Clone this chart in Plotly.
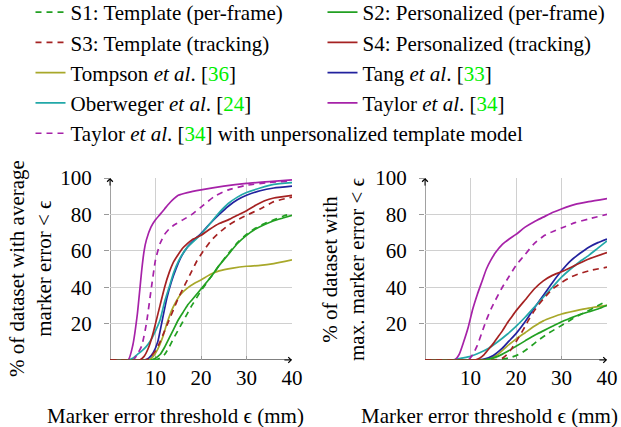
import plotly.graph_objects as go

# ---------------- data: average marker error (left panel) ----------------
x_avg_s1 = [0, 10, 11, 12, 13, 14, 15, 16, 17, 18, 19, 20, 22, 24, 26, 28, 30, 32, 34, 36, 38, 40]
y_avg_s1 = [0, 0, 1, 3, 7, 12, 16.5, 21, 25.5, 30, 34, 38, 45, 52, 58.5, 64.5, 69, 72.5, 75, 77, 79, 80.5]

x_avg_s2 = [0, 9, 10, 11, 12, 13, 14, 15, 16, 17, 18, 19, 20, 22, 24, 26, 28, 30, 32, 34, 36, 38, 40]
y_avg_s2 = [0, 0, 1, 3, 7, 12, 17, 22, 26, 30, 33, 36, 39, 45, 52, 58, 64, 68.5, 72, 74.5, 76.5, 78, 79.5]

x_avg_s3 = [0, 8, 9, 10, 11, 12, 13, 14, 15, 16, 17, 18, 19, 20, 22, 24, 26, 28, 30, 33, 36, 40]
y_avg_s3 = [0, 0, 2, 5, 10, 16, 22, 28, 34, 39, 44, 49, 54, 58, 65, 70, 74, 77, 79.5, 83, 87, 89.5]

x_avg_s4 = [0, 6.5, 7.5, 8.5, 9.5, 10, 11, 12, 13, 14, 15, 16, 17, 18, 20, 22, 24, 26, 28, 30, 32, 34, 36, 40]
y_avg_s4 = [0, 0, 2, 7, 15, 20, 30, 40, 48, 54, 58, 61.5, 64, 66, 68.5, 72, 75, 77, 79.5, 82, 85, 87.5, 89, 90.5]

x_avg_tompson = [0, 8.5, 9.5, 10.5, 11.5, 12.5, 13.5, 14.5, 15.5, 17, 18.5, 20, 22, 24, 27, 30, 33, 36, 40]
y_avg_tompson = [0, 0, 2, 6, 12, 20, 27, 32, 36, 39.5, 42, 44, 47, 49, 50.5, 51.5, 52, 53, 55]

x_avg_tang = [0, 7.5, 8.5, 9.5, 10.5, 11.5, 12.5, 13.5, 14.5, 15.5, 17, 18.5, 20, 22, 24, 26, 28, 30, 33, 36, 40]
y_avg_tang = [0, 0, 1, 4, 10, 22, 34, 43, 50, 56, 62, 66, 69.5, 75, 80, 84.5, 88, 90.5, 93, 94.5, 95.5]

x_avg_ober = [0, 4, 5, 6, 7, 8, 9, 10, 11, 12, 13, 14, 15, 16, 17, 18.5, 20, 22, 24, 26, 28, 30, 33, 36, 40]
y_avg_ober = [0, 0, 1, 3, 5, 7.5, 11, 16, 22, 32, 40, 48, 54, 58.5, 62, 65.5, 69, 75, 81, 86, 89.5, 92, 94.5, 96.5, 97.5]

x_avg_taylor = [0, 4, 5, 6, 7, 7.5, 8, 9, 10, 11, 12, 13, 14, 15, 17, 20, 25, 30, 35, 40]
y_avg_taylor = [0, 0, 8, 25, 50, 60, 66, 73, 77, 80, 83, 86, 88.5, 90.5, 92, 93.5, 95.5, 97, 98, 99]

x_avg_taylor_t = [0, 5, 6, 7, 8, 9, 10, 11, 12, 13, 14, 16, 18, 20, 23, 26, 30, 35, 40]
y_avg_taylor_t = [0, 0, 3, 8, 20, 38, 55, 64, 69, 72, 74, 77, 80, 84, 90, 93.5, 96, 97.5, 98.5]

# ---------------- data: max marker error (right panel) ----------------
x_max_s1 = [0, 15, 17, 19, 21, 23, 25, 27, 29, 31, 33, 35, 37, 40]
y_max_s1 = [0, 0, 0.5, 1.5, 3.5, 7, 11, 14.5, 17.5, 20.5, 23.5, 26, 28.5, 32.5]

x_max_s2 = [0, 12, 14, 16, 18, 20, 22, 24, 26, 28, 30, 32, 34, 36, 38, 40]
y_max_s2 = [0, 0, 0.5, 2, 4.5, 7.5, 10.5, 13.5, 16, 18.5, 21, 23, 25, 26.5, 28, 30]

x_max_s3 = [0, 16, 17, 18, 19, 20, 21, 22, 23, 24, 25, 26, 28, 30, 32, 34, 36, 40]
y_max_s3 = [0, 0, 1, 3, 6, 10, 14, 18.5, 23, 27, 30.5, 33.5, 39, 42.5, 45.5, 47.5, 49, 51]

x_max_s4 = [0, 11, 12, 13, 14, 15, 16, 17, 18, 19, 20, 22, 24, 26, 28, 30, 33, 36, 40]
y_max_s4 = [0, 0, 1, 3, 6, 9, 12.5, 16, 20, 23.5, 27, 33, 39, 43.5, 46.5, 48.5, 52, 55.5, 59]

x_max_tompson = [0, 13, 14, 16, 18, 20, 22, 24, 26, 28, 30, 33, 36, 40]
y_max_tompson = [0, 0, 0.5, 3, 7.5, 11.5, 15, 18.5, 21.5, 23.5, 25.3, 27, 28.5, 30]

x_max_tang = [0, 11, 13, 15, 17, 18.5, 20, 22, 24, 26, 28, 30, 32, 34, 36, 38, 40]
y_max_tang = [0, 0, 0.5, 2.5, 6.5, 10.5, 14.5, 21, 28.5, 35.5, 42.5, 49, 54.5, 58.5, 62, 64.5, 66.5]

x_max_ober = [0, 6, 8, 10, 12, 14, 16, 18, 20, 22, 24, 26, 28, 30, 32, 34, 36, 38, 40]
y_max_ober = [0, 0, 1, 2, 4, 6.5, 10, 14, 18.5, 23.5, 29, 34.5, 40, 45.5, 50, 54, 57.5, 61.5, 65.5]

x_max_taylor = [0, 6.5, 7.5, 8.5, 9.5, 10.5, 11.5, 12.5, 13.5, 14.5, 15.5, 17, 18.5, 20, 22, 24, 26, 28, 30, 33, 36, 40]
y_max_taylor = [0, 0, 3, 10, 18, 28, 36, 43, 50, 55, 59, 63.5, 66.5, 69, 73, 76, 78.5, 81, 83, 85.5, 87, 88.7]

x_max_taylor_t = [0, 9.5, 10.5, 11.5, 12.5, 13.5, 14.5, 15.5, 17, 18.5, 20, 22, 24, 26, 28, 30, 33, 36, 40]
y_max_taylor_t = [0, 0, 3, 8, 15, 22, 28, 33, 40, 46, 52, 58, 64, 68, 70.5, 72.5, 75.5, 77.5, 80]

x_ticks = [10, 20, 30, 40]
y_ticks = [20, 40, 60, 80, 100]

GREEN, RED, OLIVE, BLUE, TEAL, MAGENTA = "#22a022", "#a52222", "#a8a82a", "#22229e", "#22a8a8", "#a622a8"
CITE = "#00ee00"

def cite(n):
    return f"[<span style='color:{CITE}'>{n}</span>]"

DASH = "6px,5px"
series = [
    # name, color, dash, avg x/y, max x/y, legend id, legend rank
    ("Tompson <i>et al</i>. " + cite(36), OLIVE, "solid", x_avg_tompson, y_avg_tompson, x_max_tompson, y_max_tompson, "legend", 3),
    ("Tang <i>et al</i>. " + cite(33), BLUE, "solid", x_avg_tang, y_avg_tang, x_max_tang, y_max_tang, "legend2", 3),
    ("Oberweger <i>et al</i>. " + cite(24), TEAL, "solid", x_avg_ober, y_avg_ober, x_max_ober, y_max_ober, "legend", 4),
    ("Taylor <i>et al</i>. " + cite(34), MAGENTA, "solid", x_avg_taylor, y_avg_taylor, x_max_taylor, y_max_taylor, "legend2", 4),
    ("Taylor <i>et al</i>. " + cite(34) + " with unpersonalized template model", MAGENTA, DASH,
     x_avg_taylor_t, y_avg_taylor_t, x_max_taylor_t, y_max_taylor_t, "legend", 5),
    ("S1: Template (per-frame)", GREEN, DASH, x_avg_s1, y_avg_s1, x_max_s1, y_max_s1, "legend", 1),
    ("S2: Personalized (per-frame)", GREEN, "solid", x_avg_s2, y_avg_s2, x_max_s2, y_max_s2, "legend2", 1),
    ("S3: Template (tracking)", RED, DASH, x_avg_s3, y_avg_s3, x_max_s3, y_max_s3, "legend", 2),
    ("S4: Personalized (tracking)", RED, "solid", x_avg_s4, y_avg_s4, x_max_s4, y_max_s4, "legend2", 2),
]

fig = go.Figure()
for i, (name, col, dash, xa, ya, xm, ym, leg, rank) in enumerate(series):
    line = dict(color=col, width=1.7, dash=dash, shape="spline", smoothing=0.5)
    fig.add_trace(go.Scatter(x=xa, y=ya, mode="lines", name=name, line=line, legend=leg,
                             legendgroup=str(i), legendrank=rank, xaxis="x", yaxis="y"))
    fig.add_trace(go.Scatter(x=xm, y=ym, mode="lines", name=name, line=line, showlegend=False, legend=leg,
                             legendgroup=str(i), legendrank=rank, xaxis="x2", yaxis="y2"))

SERIF = "Liberation Serif"
FS = 21
W, H = 621, 427
ydom = [(H - 360) / H, (H - 178) / H]
tickfont = dict(family=SERIF, size=FS, color="black")
axis_common = dict(range=[0, 40], tickvals=x_ticks, showgrid=True, gridcolor="#d0d0d0", gridwidth=1,
                   zeroline=False, showline=False, ticks="inside", ticklen=4, tickcolor="#999999",
                   tickfont=tickfont, ticklabelstandoff=3, layer="below traces", automargin=False)
yaxis_common = dict(range=[0, 100], tickvals=y_ticks, showgrid=True, gridcolor="#d0d0d0", gridwidth=1,
                    zeroline=False, showline=False, ticks="outside", ticklen=5, tickcolor="#999999",
                    tickfont=tickfont, ticklabelstandoff=8, layer="below traces", domain=ydom,
                    automargin=False)

leg_common = dict(orientation="v", y=1.019, xanchor="left", yanchor="top", tracegroupgap=0,
                  font=dict(family=SERIF, size=FS, color="black"), bgcolor="rgba(0,0,0,0)",
                  traceorder="grouped", borderwidth=0)

fig.update_layout(
    width=W, height=H, autosize=False,
    margin=dict(l=0, r=0, t=0, b=0, autoexpand=False),
    paper_bgcolor="white", plot_bgcolor="white",
    xaxis=dict(axis_common, domain=[110 / W, 292 / W], anchor="y"),
    yaxis=dict(yaxis_common, anchor="x"),
    xaxis2=dict(axis_common, domain=[425 / W, 607 / W], anchor="y2"),
    yaxis2=dict(yaxis_common, anchor="x2"),
    showlegend=True,
    legend=dict(leg_common, x=30.5 / W),
    legend2=dict(leg_common, x=322.5 / W),
)

# axis titles
title_font = dict(family=SERIF, size=FS, color="black")
for x0 in (45, 359):
    fig.add_annotation(x=x0 / W, y=(H - 416) / H, xref="paper", yref="paper", xanchor="left", yanchor="middle",
                       text="Marker error threshold ϵ (mm)", showarrow=False, font=title_font)
fig.add_annotation(x=30 / W, y=(H - 269) / H, xref="paper", yref="paper", xanchor="center", yanchor="middle",
                   textangle=-90, text="% of dataset with average<br>marker error &lt; ϵ", showarrow=False,
                   font=title_font)
fig.add_annotation(x=343 / W, y=(H - 269) / H, xref="paper", yref="paper", xanchor="center", yanchor="middle",
                   textangle=-90, text="% of dataset with<br>max. marker error &lt; ϵ", showarrow=False,
                   font=title_font)

# axis lines with arrowheads (pgfplots "middle" axis style)
for xr, yr in (("x", "y"), ("x2", "y2")):
    fig.add_shape(type="line", xref=xr, yref=yr, x0=0, y0=0, x1=40, y1=0,
                  line=dict(color="black", width=1), layer="below")
    fig.add_shape(type="line", xref=xr, yref=yr, x0=0, y0=0, x1=0, y1=100,
                  line=dict(color="#444444", width=1), layer="below")
    fig.add_annotation(x=40, y=0, ax=38, ay=0, xref=xr, yref=yr, axref=xr, ayref=yr, text="",
                       showarrow=True, arrowhead=4, arrowsize=1.1, arrowwidth=1, arrowcolor="black")
    fig.add_annotation(x=0, y=100, ax=0, ay=95, xref=xr, yref=yr, axref=xr, ayref=yr, text="",
                       showarrow=True, arrowhead=4, arrowsize=1.1, arrowwidth=1, arrowcolor="black")

fig.write_html("out.html", config={"displayModeBar": False},
               post_script="document.body.style.margin='0px';")
